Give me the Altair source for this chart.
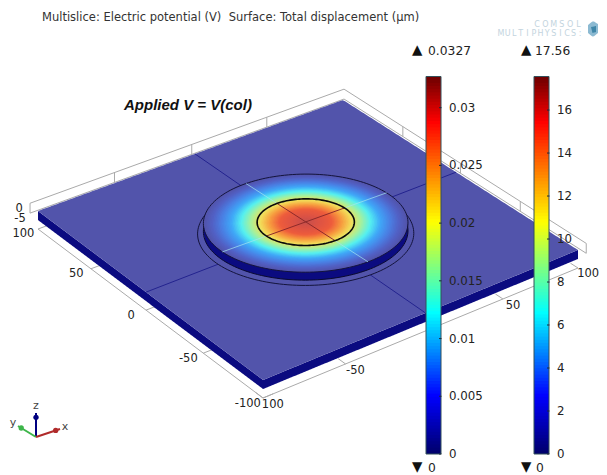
import numpy as np
import pandas as pd
import altair as alt

# ---- values ----
TITLE = "Multislice: Electric potential (V)\u00a0\u00a0Surface: Total displacement (µm)"
ANNOTATION = "Applied V = V(col)"
Y_TICKS = [100, 50, 0, -50, -100]
Y_LABELS = ["100", "50", "0", "-50", "-100"]
X_TICKS = [-100, -50, 50, 100]
X_LABELS = ["100", "-50", "50", "100"]
BACK_TICKS = [-50, 0, 50]
POT_TICKS = [0, 0.005, 0.01, 0.015, 0.02, 0.025, 0.03]
POT_LABELS = ["0", "0.005", "0.01", "0.015", "0.02", "0.025", "0.03"]
POT_MAX = 0.0327
DISP_TICKS = [0, 2, 4, 6, 8, 10, 12, 14, 16]
DISP_LABELS = ["0", "2", "4", "6", "8", "10", "12", "14", "16"]
DISP_MAX = 17.56
# disc surface colours against model radius
SURF_R = [0, 7, 14, 19, 24, 29, 34, 39, 44, 49, 53]
SURF_C = ["#C2504E", "#DC5244", "#EE5C3C", "#F79A3E", "#F3DC58", "#A8F09A", "#55F0F0",
          "#3FA8F8", "#4A80E4", "#5260C4", "#5254AB"]
# colour bar palette against fraction of range
BAR_F = [0, 0.15, 0.37, 0.49, 0.61, 0.875, 1]
BAR_C = ["#00006E", "#0000FF", "#00FFFF", "#7FFF7F", "#FFFF00", "#FF0000", "#660000"]

PLATE = "#5254AB"
SIDE = "#0B0B80"
GREY = "#AAAAAA"
RIGHT, BOTTOM = 599, 475

# camera: where the plate corners of the model land in the view plane
SRC = [(-100, 100), (100, 100), (100, -100), (-100, -100)]
DST = [(38, 211), (343, 100), (578, 250), (263, 380)]
Z_K = 1.8
DISC_FLAT = 0.93


def _homography(src, dst):
    A, b = [], []
    for (u, v), (p, q) in zip(src, dst):
        A.append([u, v, 1, 0, 0, 0, -u * p, -v * p])
        A.append([0, 0, 0, u, v, 1, -u * q, -v * q])
        b += [p, q]
    return np.append(np.linalg.solve(np.array(A, float), np.array(b, float)), 1).reshape(3, 3)


HM = _homography(SRC, DST)


def proj(x, y, z=0.0):
    x, y = np.asarray(x, float), np.asarray(y, float)
    d = HM[2, 0] * x + HM[2, 1] * y + HM[2, 2]
    return (HM[0, 0] * x + HM[0, 1] * y + HM[0, 2]) / d, \
           (HM[1, 0] * x + HM[1, 1] * y + HM[1, 2]) / d - Z_K * z


def dproj(x, y, z=0.0):
    """Projection for the disc, whose ellipses read slightly flatter than the plate."""
    px, py = proj(x, y, z)
    _, cy = proj(0, 0, z)
    return px, cy + (py - cy) * DISC_FLAT


def circle(r, z, n=160):
    t = np.linspace(0, 2 * np.pi, n)
    return dproj(r * np.cos(t), r * np.sin(t), z)


def span(px, py, key=0, step=1.5):
    """Turn a closed convex outline into columns for an area mark."""
    px, py = np.asarray(px, float), np.asarray(py, float)
    lo, hi = px.min(), px.max()
    grid = np.unique(np.r_[np.arange(lo, hi, step), hi])
    rows = []
    x0, y0 = px, py
    x1, y1 = np.roll(px, -1), np.roll(py, -1)
    for g in grid:
        m = (np.minimum(x0, x1) <= g) & (g <= np.maximum(x0, x1)) & (x0 != x1)
        ys = y0[m] + (g - x0[m]) * (y1[m] - y0[m]) / (x1[m] - x0[m])
        if len(ys):
            rows.append((g, ys.min(), ys.max(), key))
    return pd.DataFrame(rows, columns=["x", "y", "y2", "key"])


def poly(us, vs, zs):
    return proj(np.array(us), np.array(vs), np.array(zs))


SX = alt.Scale(domain=[8, RIGHT], range=[0, RIGHT - 8])
SY = alt.Scale(domain=[8, BOTTOM], range=[0, BOTTOM - 8])
X = alt.X("x:Q", scale=SX, axis=None)
Y = alt.Y("y:Q", scale=SY, axis=None)


def area(df, color):
    return alt.Chart(df).mark_area(color=color, orient="vertical", interpolate="linear", strokeWidth=0).encode(
        x=X, y=Y, y2="y2:Q", detail="key:N")


def rules(segs, width, opacity=1.0):
    df = pd.DataFrame(segs, columns=["x", "y", "x2", "y2", "c"])
    return alt.Chart(df).mark_rule(strokeWidth=width, opacity=opacity).encode(
        x=X, y=Y, x2="x2:Q", y2="y2:Q", color=alt.Color("c:N", scale=None))


def seg(a, b, c):
    return (float(a[0]), float(a[1]), float(b[0]), float(b[1]), c)


def outline(px, py, color, width):
    df = pd.DataFrame({"x": px, "y": py, "i": np.arange(len(px))})
    return alt.Chart(df).mark_line(color=color, strokeWidth=width).encode(x=X, y=Y, order="i:Q")


def texts(rows, size=11, color="#222222", font="DejaVu Sans", align="center", **kw):
    df = pd.DataFrame(rows, columns=["x", "y", "t"])
    return alt.Chart(df).mark_text(fontSize=size, color=color, font=font, align=align,
                                   baseline="middle", **kw).encode(x=X, y=Y, text="t:N")


layers = []

# ---- axis frame ----
FLOOR, PAD = -10, 103
frame = [
    seg(proj(-100, 100, FLOOR), proj(-100, -100, FLOOR), GREY),
    seg(proj(-100, -100, FLOOR), proj(100, -100, FLOOR), GREY),
    seg(proj(-PAD, PAD, 4), proj(PAD, PAD, 4), GREY),
    seg(proj(PAD, PAD, 4), proj(PAD, -PAD, 4), GREY),
    seg(proj(-PAD, PAD, -1.5), proj(PAD, PAD, -1.5), GREY),
    seg(proj(PAD, PAD, -1.5), proj(PAD, -PAD, -1.5), GREY),
    seg(proj(-PAD, PAD, 4), proj(-PAD, PAD, -1.5), GREY),
    seg(proj(PAD, -PAD, 4), proj(PAD, -PAD, -1.5), GREY),
]
for v in BACK_TICKS:
    frame.append(seg(proj(v, PAD, 4), proj(v, PAD, -1.5), GREY))
    frame.append(seg(proj(PAD, v, 4), proj(PAD, v, -1.5), GREY))
for v in Y_TICKS:
    frame.append(seg(proj(-100, v, FLOOR), proj(-94, v, FLOOR), GREY))
for v in X_TICKS:
    frame.append(seg(proj(v, -100, FLOOR), proj(v, -94, FLOOR), GREY))
layers.append(rules(frame, 1))

# ---- plate ----
layers.append(area(span(*poly([-100, -100, -100, -100], [100, -100, -100, 100], [0, 0, -5, -5])), SIDE))
layers.append(area(span(*poly([-100, 100, 100, -100], [-100, -100, -100, -100], [0, 0, -5, -5])), SIDE))
layers.append(area(span(*poly([-100, 100, 100, -100], [100, 100, -100, -100], [0, 0, 0, 0])), PLATE))

LINE = "#23238F"
layers.append(rules([
    seg(proj(0, 100), proj(0, 50), LINE), seg(proj(0, -50), proj(0, -100), LINE),
    seg(proj(-100, 0), proj(-50, 0), LINE), seg(proj(50, 0), proj(100, 0), LINE),
], 1))

# ---- disc ----
R_OUT, R_TOP, R_IN, LIFT, LOW, RING_Z = 56, 53, 25.2, 4.7, 0.3, -1
layers.append(area(span(*circle(R_OUT, RING_Z)), PLATE))
layers.append(outline(*circle(R_OUT, RING_Z), "#14143C", 1))
layers.append(area(span(*circle(R_TOP, LOW)), SIDE))
layers.append(outline(*circle(R_TOP, LOW), "#0A0A30", 1))

rings = []
radii = np.arange(R_TOP, 0, -0.8)
for r in radii:
    d = span(*circle(r, LIFT, 90), key=float(r), step=1.5)
    d["r"] = float(r)
    rings.append(d)
rings = pd.concat(rings, ignore_index=True)
layers.append(alt.Chart(rings).mark_area(orient="vertical", interpolate="linear", strokeWidth=0).encode(
    x=X, y=Y, y2="y2:Q", detail=alt.Detail("key:Q"),
    color=alt.Color("r:Q", scale=alt.Scale(domain=SURF_R, range=SURF_C, interpolate="rgb"), legend=None)))

layers.append(outline(*circle(R_TOP, LIFT), "#14143C", 1))
layers.append(rules([
    seg(dproj(0, R_TOP, LIFT), dproj(0, R_IN, LIFT), "#A4E6F0"),
    seg(dproj(0, -R_IN, LIFT), dproj(0, -R_TOP, LIFT), "#A4E6F0"),
    seg(dproj(R_TOP, 0, LIFT), dproj(R_IN, 0, LIFT), "#A4E6F0"),
    seg(dproj(-R_IN, 0, LIFT), dproj(-R_TOP, 0, LIFT), "#A4E6F0"),
], 1, 0.7))
layers.append(rules([
    seg(dproj(0, R_IN, LIFT), dproj(0, -R_IN, LIFT), "#8E2A2A"),
    seg(dproj(R_IN, 0, LIFT), dproj(-R_IN, 0, LIFT), "#8E2A2A"),
], 1))
layers.append(outline(*circle(R_IN, LIFT), "#0A0A0A", 1.6))

# ---- axis labels ----
rows = []
for v, t in zip(Y_TICKS, Y_LABELS):
    px, py = proj(-109, v, FLOOR)
    rows.append((float(px), float(py), t))
for v, t in zip(X_TICKS, X_LABELS):
    px, py = proj(v, -108, FLOOR)
    rows.append((float(px), float(py), t))
layers.append(texts(rows, 11.5))
zx, zy = proj(-PAD, PAD, 4)
zx2, zy2 = proj(-PAD, PAD, -1.5)
layers.append(texts([(float(zx) - 11, float(zy) + 6, "0"), (float(zx2) - 10, float(zy2) + 6, "-5")], 11.5))


# ---- colour bars ----
def colourbar(ticks, labels, vmax, left, right):
    sy = alt.Scale(domain=[0, vmax], range=[446, 68.5])
    edges = np.linspace(0, vmax, 120)
    cells = pd.DataFrame({"lo": edges[:-1], "hi": np.minimum(edges[1:] + vmax / 200, vmax)})
    cells["f"] = cells["lo"] / vmax
    cells["xl"], cells["xr"] = left, right
    yy = alt.Y("lo:Q", scale=sy, axis=None)
    xl = alt.X("xl:Q", scale=SX, axis=None)
    out = [alt.Chart(cells).mark_rect(strokeWidth=0).encode(
        x=xl, x2="xr:Q", y=yy, y2="hi:Q",
        color=alt.Color("f:Q", scale=alt.Scale(domain=BAR_F, range=BAR_C, interpolate="rgb"), legend=None))]
    box = pd.DataFrame({"lo": [0], "hi": [vmax], "xl": [left], "xr": [right]})
    out.append(alt.Chart(box).mark_rect(fillOpacity=0, stroke="#33505A", strokeWidth=1).encode(
        x=xl, x2="xr:Q", y=yy, y2="hi:Q"))
    tk = pd.DataFrame({"lo": ticks, "xl": right - 2, "xr": right + 0.5, "t": labels, "xt": right + 8})
    out.append(alt.Chart(tk).mark_rule(color="#1A2A3A", strokeWidth=1).encode(x=xl, x2="xr:Q", y=yy))
    out.append(alt.Chart(tk).mark_text(fontSize=11.8, font="DejaVu Sans", color="#222222", align="left",
                                       baseline="middle").encode(
        x=alt.X("xt:Q", scale=SX, axis=None), y=yy, text="t:N"))
    return out


layers += colourbar(POT_TICKS, POT_LABELS, POT_MAX, 426, 441)
layers += colourbar(DISP_TICKS, DISP_LABELS, DISP_MAX, 534, 549)

# limits of each bar
layers.append(texts([(428, 50.5, "0.0327"), (535, 50.5, "17.56"), (428, 467.5, "0"), (536, 467.5, "0")],
                    12.3, align="left"))
layers.append(texts([(412, 50, "▲"), (521, 50, "▲"), (412, 467, "▼"), (521, 467, "▼")], 13.5, color="#111111",
                    align="left"))

# ---- title, annotation, logo ----
layers.append(texts([(42, 18, TITLE)], 11.5, color="#333333", align="left"))
layers.append(texts([(124, 105, ANNOTATION)], 15, color="#111111", font="Liberation Sans", align="left",
                    fontWeight="bold", fontStyle="italic"))
logo = [(537 + 8.3 * i, 25, ch) for i, ch in enumerate("COMSOL")] + \
       [(501 + 6.6 * i, 33.5, ch) for i, ch in enumerate("MULTIPHYSICS:")]
layers.append(texts(logo, 8, color="#C3D4DE"))
layers.append(area(span(np.array([588, 593, 598, 598, 593, 588]), np.array([25, 21, 24, 33, 37, 33])), "#8CBAD2"))
layers.append(area(span(np.array([591, 596, 596, 592]), np.array([27, 26, 32, 33])), "#3F86A8"))

# ---- orientation triad ----
AX = [("z", 36, 413, "#000080"), ("y", 18, 426, "#3DB54A"), ("x", 60, 429, "#B02A2A")]
layers.append(rules([(36, 437, x, y, c) for _, x, y, c in AX], 2))
tips = pd.DataFrame([{"x": 36 + (x - 36) * .82, "y": 437 + (y - 437) * .82, "c": c} for _, x, y, c in AX])
layers.append(alt.Chart(tips).mark_point(filled=True, size=28, opacity=1).encode(
    x=X, y=Y, color=alt.Color("c:N", scale=None)))
layers.append(texts([(36, 406, "z"), (13, 423, "y"), (65, 427, "x")], 11, color="#444444"))

chart = alt.layer(*layers).resolve_scale(y="independent", color="independent").properties(
    width=RIGHT - 8, height=BOTTOM - 8, padding=0, autosize=alt.AutoSizeParams(type="none"), background="white",
).configure_view(stroke=None)

chart.save("out.html", embed_options={"renderer": "svg", "actions": False})
